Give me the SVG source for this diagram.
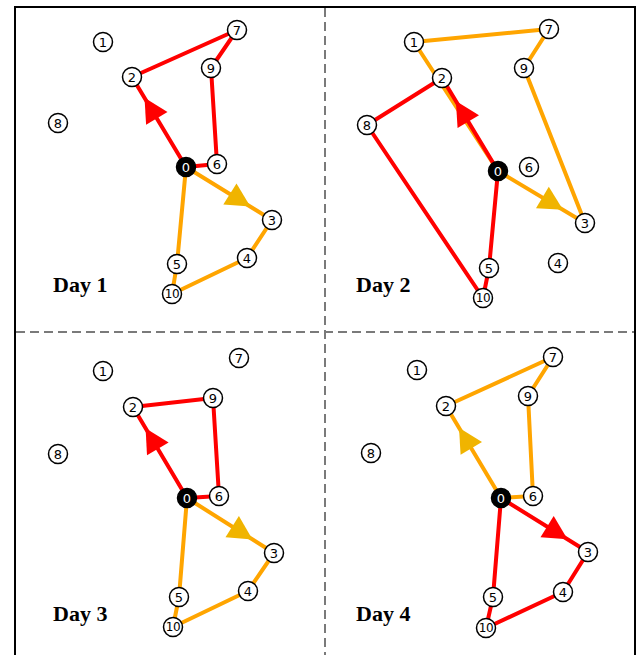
<svg xmlns="http://www.w3.org/2000/svg" width="637" height="655" viewBox="0 0 637 655">
<style>
.bg{fill:#ffffff}
.frame{fill:none;stroke:#000;stroke-width:2}
.div{stroke:#7a7a7a;stroke-width:2;stroke-dasharray:9,5;fill:none}
.r{stroke:#ff0000;stroke-width:4;fill:none;stroke-linecap:round;stroke-linejoin:round}
.o{stroke:#ffa500;stroke-width:4;fill:none;stroke-linecap:round;stroke-linejoin:round}
.ar{fill:#ff0000}
.ay{fill:#f0b400}
.n circle{fill:#fff;stroke:#000;stroke-width:1.5}
.n text{font-family:"DejaVu Sans",sans-serif;font-size:13px;fill:#000;text-anchor:middle;dominant-baseline:central}
.n text.w{font-size:12px;letter-spacing:-0.5px}
.n.depot circle{fill:#000}
.n.depot text{fill:#fff}
.day{font-family:"Liberation Serif","Times New Roman",serif;font-weight:bold;font-size:22px;fill:#000}
</style>
<rect class="bg" x="0" y="0" width="637" height="655"/>
<rect class="frame" x="15" y="7" width="620" height="660"/>
<line class="div" x1="325" y1="8" x2="325" y2="655"/>
<line class="div" x1="16" y1="332" x2="634" y2="332"/>

<g id="connectors">
  <!-- Day 1 -->
  <polyline class="o" points="186,167 272,220 247,258 172,294 177,264 186,167"/>
  <polyline class="r" points="186,167 132,77 237,30 211,68 217,164 186,167"/>
  <polygon class="ar" points="144.5,97.8 167.5,112.0 146.1,124.8"/>
  <polygon class="ay" points="250.3,206.6 223.3,204.6 236.5,183.4"/>
  <!-- Day 2 -->
  <polyline class="o" points="498,171 585,223 524,68 549,29 414,42 498,171"/>
  <polyline class="r" points="498,171 442,78 367,125 483,298 489,268 498,171"/>
  <polygon class="ar" points="455.9,101.1 479.0,115.3 457.6,128.1"/>
  <polygon class="ay" points="563.0,209.8 536.0,208.2 548.8,186.8"/>
  <!-- Day 3 -->
  <polyline class="o" points="187,498 274,553 248,591 173,627 179,597 187,498"/>
  <polyline class="r" points="187,498 133,407 213,398 219,496 187,498"/>
  <polygon class="ar" points="145.6,428.3 168.6,442.5 147.0,455.3"/>
  <polygon class="ay" points="252.5,539.4 225.5,537.2 238.9,516.0"/>
  <!-- Day 4 -->
  <polyline class="o" points="501,498 446,406 553,357 528,396 533,496 501,498"/>
  <polyline class="r" points="501,498 588,552 563,592 486,628 493,597 501,498"/>
  <polygon class="ay" points="459.0,427.7 482.0,441.9 460.6,454.7"/>
  <polygon class="ar" points="567.5,539.3 540.5,537.2 553.7,516.0"/>
</g>

<!-- Day 1 nodes -->
<g id="d1n1" class="n"><circle cx="103" cy="42" r="9.5"/><text x="103" y="42">1</text></g>
<g id="d1n7" class="n"><circle cx="237" cy="30" r="9.5"/><text x="237" y="30">7</text></g>
<g id="d1n2" class="n"><circle cx="132" cy="77" r="9.5"/><text x="132" y="77">2</text></g>
<g id="d1n9" class="n"><circle cx="211" cy="68" r="9.5"/><text x="211" y="68">9</text></g>
<g id="d1n8" class="n"><circle cx="58" cy="123" r="9.5"/><text x="58" y="123">8</text></g>
<g id="d1n0" class="n depot"><circle cx="186" cy="167" r="9.5"/><text x="186" y="167">0</text></g>
<g id="d1n6" class="n"><circle cx="217" cy="164" r="9.5"/><text x="217" y="164">6</text></g>
<g id="d1n3" class="n"><circle cx="272" cy="220" r="9.5"/><text x="272" y="220">3</text></g>
<g id="d1n4" class="n"><circle cx="247" cy="258" r="9.5"/><text x="247" y="258">4</text></g>
<g id="d1n5" class="n"><circle cx="177" cy="264" r="9.5"/><text x="177" y="264">5</text></g>
<g id="d1n10" class="n"><circle cx="172" cy="294" r="9.5"/><text class="w" x="172" y="294">10</text></g>
<text class="day" x="53" y="292">Day 1</text>

<!-- Day 2 nodes -->
<g id="d2n1" class="n"><circle cx="414" cy="42" r="9.5"/><text x="414" y="42">1</text></g>
<g id="d2n7" class="n"><circle cx="549" cy="29" r="9.5"/><text x="549" y="29">7</text></g>
<g id="d2n2" class="n"><circle cx="442" cy="78" r="9.5"/><text x="442" y="78">2</text></g>
<g id="d2n9" class="n"><circle cx="524" cy="68" r="9.5"/><text x="524" y="68">9</text></g>
<g id="d2n8" class="n"><circle cx="367" cy="125" r="9.5"/><text x="367" y="125">8</text></g>
<g id="d2n0" class="n depot"><circle cx="498" cy="171" r="9.5"/><text x="498" y="171">0</text></g>
<g id="d2n6" class="n"><circle cx="529" cy="167" r="9.5"/><text x="529" y="167">6</text></g>
<g id="d2n3" class="n"><circle cx="585" cy="223" r="9.5"/><text x="585" y="223">3</text></g>
<g id="d2n4" class="n"><circle cx="558" cy="263" r="9.5"/><text x="558" y="263">4</text></g>
<g id="d2n5" class="n"><circle cx="489" cy="268" r="9.5"/><text x="489" y="268">5</text></g>
<g id="d2n10" class="n"><circle cx="483" cy="298" r="9.5"/><text class="w" x="483" y="298">10</text></g>
<text class="day" x="356" y="292">Day 2</text>

<!-- Day 3 nodes -->
<g id="d3n1" class="n"><circle cx="103" cy="371" r="9.5"/><text x="103" y="371">1</text></g>
<g id="d3n7" class="n"><circle cx="239" cy="358" r="9.5"/><text x="239" y="358">7</text></g>
<g id="d3n2" class="n"><circle cx="133" cy="407" r="9.5"/><text x="133" y="407">2</text></g>
<g id="d3n9" class="n"><circle cx="213" cy="398" r="9.5"/><text x="213" y="398">9</text></g>
<g id="d3n8" class="n"><circle cx="58" cy="454" r="9.5"/><text x="58" y="454">8</text></g>
<g id="d3n0" class="n depot"><circle cx="187" cy="498" r="9.5"/><text x="187" y="498">0</text></g>
<g id="d3n6" class="n"><circle cx="219" cy="496" r="9.5"/><text x="219" y="496">6</text></g>
<g id="d3n3" class="n"><circle cx="274" cy="553" r="9.5"/><text x="274" y="553">3</text></g>
<g id="d3n4" class="n"><circle cx="248" cy="591" r="9.5"/><text x="248" y="591">4</text></g>
<g id="d3n5" class="n"><circle cx="179" cy="597" r="9.5"/><text x="179" y="597">5</text></g>
<g id="d3n10" class="n"><circle cx="173" cy="627" r="9.5"/><text class="w" x="173" y="627">10</text></g>
<text class="day" x="53" y="621">Day 3</text>

<!-- Day 4 nodes -->
<g id="d4n1" class="n"><circle cx="417" cy="370" r="9.5"/><text x="417" y="370">1</text></g>
<g id="d4n7" class="n"><circle cx="553" cy="357" r="9.5"/><text x="553" y="357">7</text></g>
<g id="d4n2" class="n"><circle cx="446" cy="406" r="9.5"/><text x="446" y="406">2</text></g>
<g id="d4n9" class="n"><circle cx="528" cy="396" r="9.5"/><text x="528" y="396">9</text></g>
<g id="d4n8" class="n"><circle cx="371" cy="453" r="9.5"/><text x="371" y="453">8</text></g>
<g id="d4n0" class="n depot"><circle cx="501" cy="498" r="9.5"/><text x="501" y="498">0</text></g>
<g id="d4n6" class="n"><circle cx="533" cy="496" r="9.5"/><text x="533" y="496">6</text></g>
<g id="d4n3" class="n"><circle cx="588" cy="552" r="9.5"/><text x="588" y="552">3</text></g>
<g id="d4n4" class="n"><circle cx="563" cy="592" r="9.5"/><text x="563" y="592">4</text></g>
<g id="d4n5" class="n"><circle cx="493" cy="597" r="9.5"/><text x="493" y="597">5</text></g>
<g id="d4n10" class="n"><circle cx="486" cy="628" r="9.5"/><text class="w" x="486" y="628">10</text></g>
<text class="day" x="356" y="621">Day 4</text>
</svg>
